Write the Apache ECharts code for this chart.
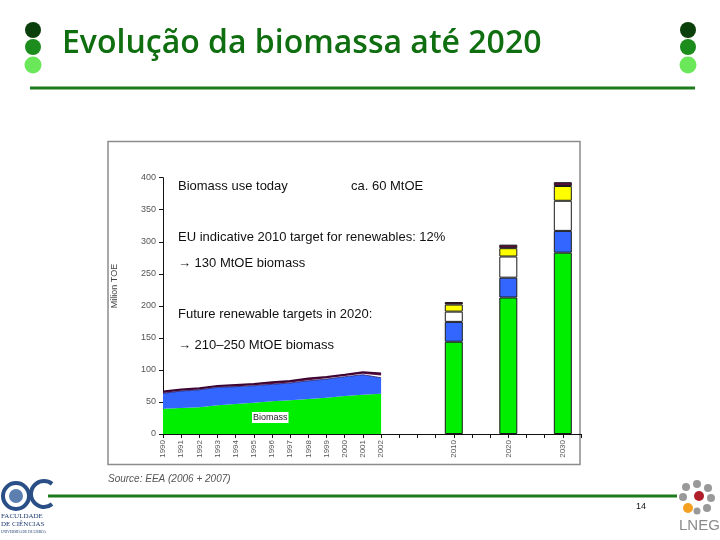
<!DOCTYPE html>
<html>
<head>
<meta charset="utf-8">
<script src="https://cdn.jsdelivr.net/npm/echarts@6/dist/echarts.min.js"></script>
<style>
html,body{margin:0;padding:0;background:#fff;}
#c{width:720px;height:540px;}
</style>
</head>
<body>
<div id="c"></div>
<script>
// ---- data ----
var categories = ['1990','1991','1992','1993','1994','1995','1996','1997','1998','1999','2000','2001','2002','_a','_b','_c','2010','_d','_e','2020','_f','_g','2030','_h'];
var areaYears = ['1990','1991','1992','1993','1994','1995','1996','1997','1998','1999','2000','2001','2002'];
var areaBiomass = [39.5, 40.5, 41.6, 45, 46.8, 48.8, 51, 52.6, 54.6, 56.7, 59.3, 61.3, 62.9];
var areaBlue    = [24, 26.5, 27.4, 27.8, 27, 26.6, 26.5, 27, 28.4, 29.1, 30.1, 31.2, 24.9];
var areaWhite   = [0.5, 0.5, 0.5, 0.5, 0.5, 0.5, 0.5, 0.6, 1, 1.1, 1.3, 1.5, 3.5];
var areaYellow  = [0, 0, 0, 0, 0, 0, 0, 0, 0, 0, 0, 0, 0];
var areaMaroon  = [2.6, 2.2, 2.3, 2.1, 2.7, 2.6, 3, 2.8, 3, 2.5, 2.3, 2.7, 3.7];
var barYears   = ['2010', '2020', '2030'];
var barBiomass = [144, 213, 283];
var barBlue    = [31, 31, 34];
var barWhite   = [16, 33, 47];
var barYellow  = [11, 13, 23];
var barMaroon  = [4, 5.5, 6];
var yTicks = [0, 50, 100, 150, 200, 250, 300, 350, 400];

function spread(years, vals) {
  var out = categories.map(function () { return '-'; });
  years.forEach(function (y, i) { out[categories.indexOf(y)] = vals[i]; });
  return out;
}

var colors = { green: '#00ee00', blue: '#3366ff', white: '#ffffff', yellow: '#ffff00', maroon: '#5a0a3c' };

function areaSeries(name, vals, color, lineColor, lw) {
  return {
    name: name, type: 'line', stack: 'area', symbol: 'none', silent: true,
    data: spread(areaYears, vals),
    lineStyle: { width: lw, color: lineColor },
    areaStyle: { color: color, opacity: 1 },
    itemStyle: { color: color }
  };
}
function barSeries(name, vals, color) {
  return {
    name: name, type: 'bar', stack: 'bar', barWidth: 18, silent: true,
    data: spread(barYears, vals),
    itemStyle: { color: color, borderColor: '#1a1a1a', borderWidth: 1 }
  };
}

var chart = echarts.init(document.getElementById('c'));
chart.setOption({
  animation: false,
  backgroundColor: '#ffffff',
  grid: { left: 163, right: 139, top: 177.7, bottom: 106, containLabel: false },
  xAxis: {
    type: 'category', data: categories, boundaryGap: false,
    axisLine: { lineStyle: { color: '#111', width: 1 } },
    axisTick: { show: true, interval: 0, length: 4, lineStyle: { color: '#111' } },
    axisLabel: {
      interval: 0, rotate: 90, fontSize: 8, color: '#555', margin: 6,
      fontFamily: 'Liberation Sans',
      formatter: function (v) { return v.charAt(0) === '_' ? '' : v; }
    },
    splitLine: { show: false }
  },
  yAxis: {
    type: 'value', min: yTicks[0], max: yTicks[yTicks.length - 1], interval: 50,
    axisLine: { show: true, lineStyle: { color: '#111', width: 1 } },
    axisTick: { show: true, length: 4, lineStyle: { color: '#111' } },
    axisLabel: { fontSize: 9, color: '#555', margin: 7, fontFamily: 'Liberation Sans' },
    splitLine: { show: false }
  },
  series: [
    areaSeries('Biomass', areaBiomass, colors.green, colors.green, 0),
    areaSeries('Other 1', areaBlue, colors.blue, '#1a1a6a', 0.8),
    areaSeries('Other 2', areaWhite, colors.white, '#ffffff', 0),
    areaSeries('Other 3', areaYellow, colors.yellow, colors.yellow, 0),
    areaSeries('Other 4', areaMaroon, colors.maroon, '#3a0530', 1.5),
    barSeries('Biomass', barBiomass, colors.green),
    barSeries('Other 1', barBlue, colors.blue),
    barSeries('Other 2', barWhite, colors.white),
    barSeries('Other 3', barYellow, colors.yellow),
    barSeries('Other 4', barMaroon, colors.maroon)
  ],
  graphic: [
    // chart frame
    { type: 'rect', shape: { x: 108, y: 141.5, width: 472, height: 323 }, style: { fill: 'none', stroke: '#8c8c8c', lineWidth: 1.5 }, z: -1 },
    // y axis name
    { type: 'text', x: 115, y: 286, rotation: Math.PI / 2, style: { text: 'Milion TOE', font: '9px "Liberation Sans", Arial', fill: '#444', align: 'center', verticalAlign: 'middle' } },
    // title
    { type: 'text', left: 62, top: 28, style: { text: 'Evolução da biomassa até 2020', font: '600 32px "Open Sans", sans-serif', fill: '#0f6e0f' } },
    // dots left
    { type: 'circle', shape: { cx: 33, cy: 30, r: 8 }, style: { fill: '#0b3f0b' } },
    { type: 'circle', shape: { cx: 33, cy: 47, r: 8 }, style: { fill: '#1c8c1c' } },
    { type: 'circle', shape: { cx: 33, cy: 65, r: 8.5 }, style: { fill: '#6be85a' } },
    // dots right
    { type: 'circle', shape: { cx: 688, cy: 30, r: 8 }, style: { fill: '#0b3f0b' } },
    { type: 'circle', shape: { cx: 688, cy: 47, r: 8 }, style: { fill: '#1c8c1c' } },
    { type: 'circle', shape: { cx: 688, cy: 65, r: 8.5 }, style: { fill: '#6be85a' } },
    // top rule
    { type: 'line', shape: { x1: 30, y1: 88, x2: 695, y2: 88 }, style: { stroke: '#1c7a1c', lineWidth: 3 } },
    // bottom rule
    { type: 'line', shape: { x1: 48, y1: 496, x2: 677, y2: 496 }, style: { stroke: '#1c7a1c', lineWidth: 3 } },
    // annotations
    { type: 'text', left: 178, top: 180, style: { text: 'Biomass use today', font: '13px "Liberation Sans", Arial', fill: '#111' } },
    { type: 'text', left: 351, top: 180, style: { text: 'ca. 60 MtOE', font: '13px "Liberation Sans", Arial', fill: '#111' } },
    { type: 'text', left: 178, top: 231, style: { text: 'EU indicative 2010 target for renewables: 12%', font: '13px "Liberation Sans", Arial', fill: '#111' } },
    { type: 'text', left: 178, top: 257, style: { text: '\u2192 130 MtOE biomass', font: '13px "Liberation Sans", Arial', fill: '#111' } },
    { type: 'text', left: 178, top: 308, style: { text: 'Future renewable targets in 2020:', font: '13px "Liberation Sans", Arial', fill: '#111' } },
    { type: 'text', left: 178, top: 339, style: { text: '\u2192 210\u2013250 MtOE biomass', font: '13px "Liberation Sans", Arial', fill: '#111' } },
    { type: 'text', left: 252, top: 412, z: 100, style: { text: 'Biomass', font: '9px "Liberation Sans", Arial', fill: '#222', backgroundColor: '#ffffff', padding: [1, 1] } },
    // source
    { type: 'text', left: 108, top: 474, style: { text: 'Source: EEA (2006 + 2007)', font: 'italic 10px "Liberation Sans", Arial', fill: '#555' } },
    // page number
    { type: 'text', left: 636, top: 502, style: { text: '14', font: '9px "Liberation Sans", Arial', fill: '#111' } },
    // FC logo (approximation)
    { type: 'circle', shape: { cx: 16, cy: 496, r: 13 }, style: { fill: '#ffffff', stroke: '#2a4f86', lineWidth: 4 } },
    { type: 'circle', shape: { cx: 16, cy: 496, r: 7 }, style: { fill: '#5c7fb0' } },
    { type: 'arc', shape: { cx: 44, cy: 494, r: 13, startAngle: 0.9, endAngle: -0.9, clockwise: true }, style: { stroke: '#2a4f86', lineWidth: 4, fill: 'none' } },
    { type: 'text', left: 1, top: 513, style: { text: 'FACULDADE', font: '7px "Liberation Serif", serif', fill: '#1d3c6e' } },
    { type: 'text', left: 1, top: 521, style: { text: 'DE CIÊNCIAS', font: '7px "Liberation Serif", serif', fill: '#1d3c6e' } },
    { type: 'text', left: 1, top: 530, style: { text: 'UNIVERSIDADE DE LISBOA', font: '3.5px "Liberation Serif", serif', fill: '#1d3c6e' } },
    // LNEG logo (approximation)
    { type: 'circle', shape: { cx: 686, cy: 487, r: 4 }, style: { fill: '#999' } },
    { type: 'circle', shape: { cx: 697, cy: 484, r: 4 }, style: { fill: '#999' } },
    { type: 'circle', shape: { cx: 708, cy: 488, r: 4 }, style: { fill: '#999' } },
    { type: 'circle', shape: { cx: 683, cy: 497, r: 4 }, style: { fill: '#999' } },
    { type: 'circle', shape: { cx: 711, cy: 498, r: 4 }, style: { fill: '#999' } },
    { type: 'circle', shape: { cx: 707, cy: 508, r: 4 }, style: { fill: '#999' } },
    { type: 'circle', shape: { cx: 697, cy: 511, r: 3.5 }, style: { fill: '#999' } },
    { type: 'circle', shape: { cx: 699, cy: 496, r: 5 }, style: { fill: '#b01e2a' } },
    { type: 'circle', shape: { cx: 688, cy: 508, r: 5 }, style: { fill: '#f4a020' } },
    { type: 'text', left: 679, top: 518, style: { text: 'LNEG', font: '15px "Liberation Sans", Arial', fill: '#8a8a8a' } }
  ]
});
</script>
</body>
</html>
